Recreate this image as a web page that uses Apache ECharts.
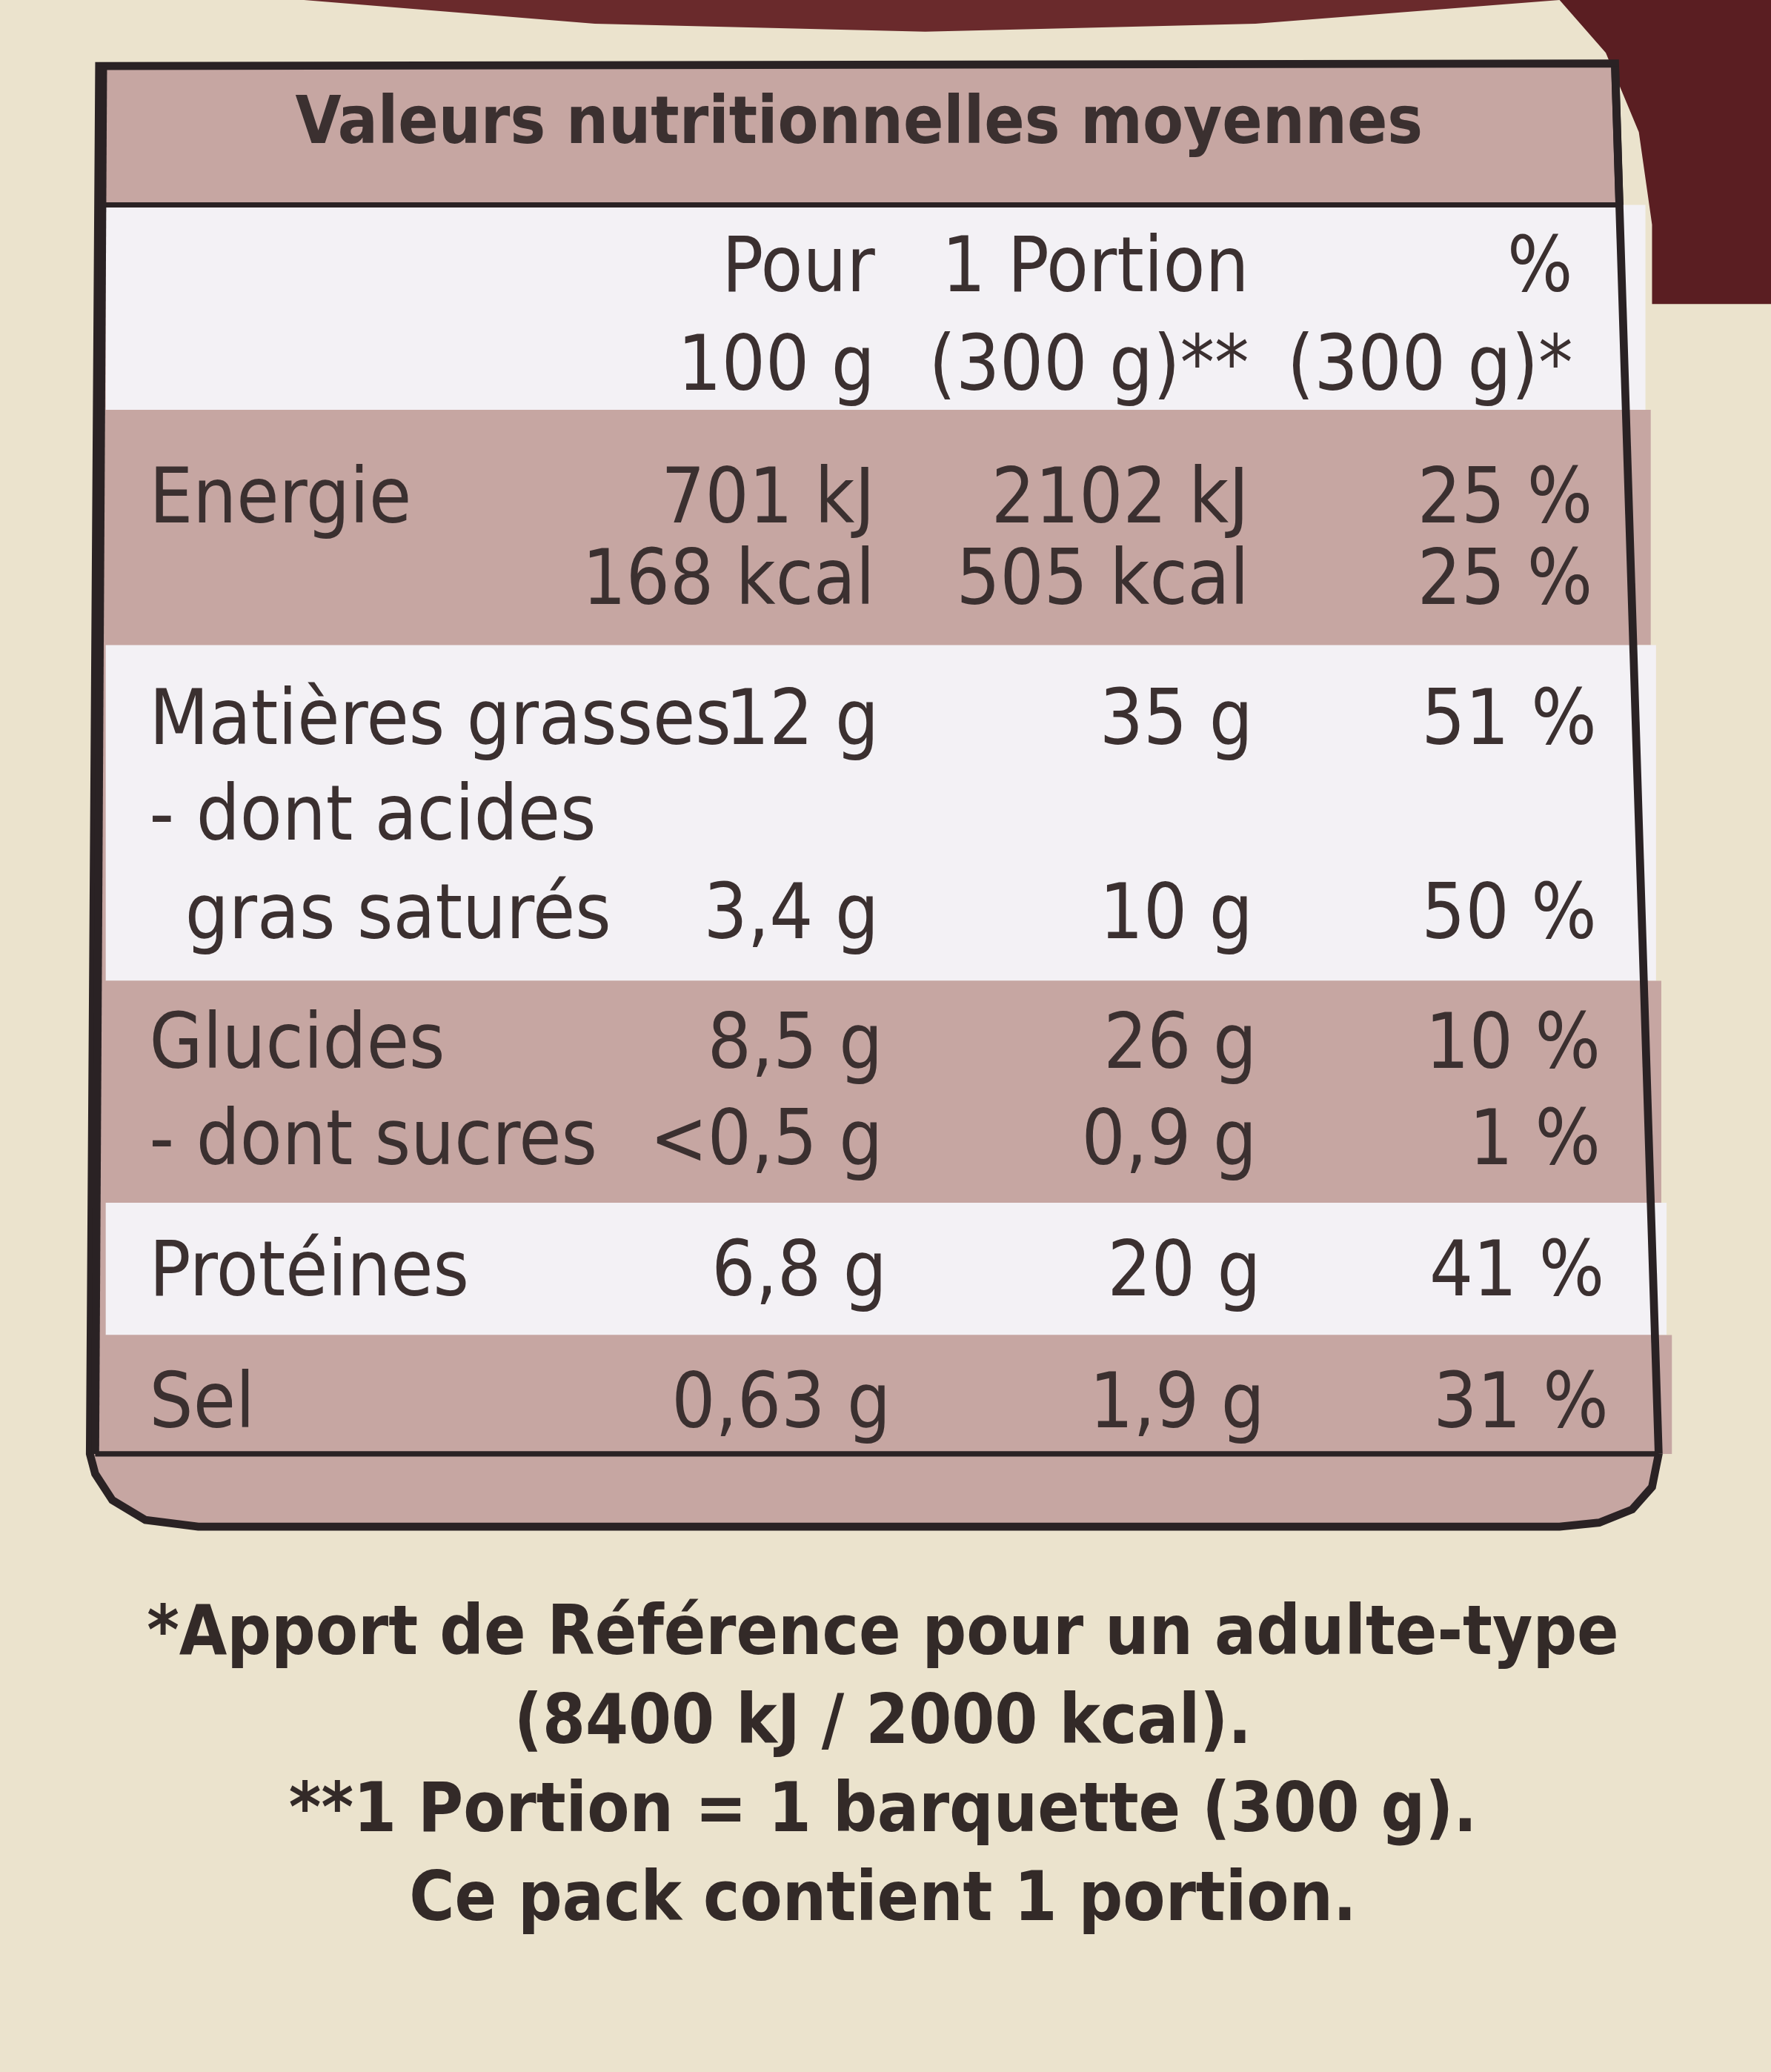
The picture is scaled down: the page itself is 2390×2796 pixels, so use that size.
<!DOCTYPE html>
<html><head><meta charset="utf-8">
<script src="https://cdn.jsdelivr.net/npm/echarts@6/dist/echarts.min.js"></script>
<style>html,body{margin:0;padding:0;background:#ebe3cd}#c{width:2390px;height:2796px}</style>
</head><body><div id="c"></div>
<script>
const title = "Valeurs nutritionnelles moyennes";
const colHeaders = [["Pour","100 g"],["1 Portion","(300 g)**"],["%","(300 g)*"]];
const rowLabels = [["Energie",""],["Matières grasses","- dont acides","  gras saturés"],["Glucides","- dont sucres"],["Protéines"],["Sel"]];
const per100 = [["701 kJ","168 kcal"],["12 g","","3,4 g"],["8,5 g","<0,5 g"],["6,8 g"],["0,63 g"]];
const perPortion = [["2102 kJ","505 kcal"],["35 g","","10 g"],["26 g","0,9 g"],["20 g"],["1,9 g"]];
const percent = [["25 %","25 %"],["51 %","","50 %"],["10 %","1 %"],["41 %"],["31 %"]];
const footnotes = ["*Apport de Référence pour un adulte-type","(8400 kJ / 2000 kcal).","**1 Portion = 1 barquette (300 g).","Ce pack contient 1 portion."];

const S = 2390/1340;
const F = "'Liberation Sans Narrow','DejaVu Sans Condensed',sans-serif";
const INK = "#3b3030";
const PINK = "#c6a6a2";
const bands = [[155,310],[310,488],[488,742],[742,910],[910,1010],[1010,1100]];
const rowY = [[205,280],[380,442],[548,620,695],[793,866],[965],[1065]];
const colX = [662,945,1205];
const els = [];
const P = pts => pts.map(p=>[p[0]*S,p[1]*S]);
function T(x,y,t,opt){els.push({type:'text',x:x*S,y:y*S,style:Object.assign({text:t,font:`${58*S}px ${F}`,fill:INK,textVerticalAlign:'middle'},opt||{})});}
// dish shapes at top
els.push({type:'polygon',shape:{points:P([[1180,0],[1215,40],[1240,100],[1250,170],[1250,230],[1340,230],[1340,0]])},style:{fill:'#5a1e22'}});
els.push({type:'polygon',shape:{points:P([[230,0],[450,18],[700,24],[950,18],[1180,0]])},style:{fill:'#6a2a2c'}});
// table frame
els.push({type:'polygon',shape:{points:P([[75,50],[1222,48],[1255,1100],[1250,1125],[1235,1142],[1210,1152],[1180,1155],[150,1155],[110,1150],[85,1135],[72,1115],[68,1100]])},style:{fill:PINK,stroke:'#2a2224',lineWidth:6*S}});
bands.forEach((b,i)=>{
  els.push({type:'rect',shape:{x:80*S,y:b[0]*S,width:(1165+i*4)*S,height:(b[1]-b[0])*S},style:{fill:i%2===0?'#f3f1f5':PINK}});
});
els.push({type:'line',shape:{x1:75*S,y1:155*S,x2:1228*S,y2:155*S},style:{stroke:'#2a2224',lineWidth:4*S}});
els.push({type:'line',shape:{x1:72*S,y1:1100*S,x2:1255*S,y2:1100*S},style:{stroke:'#2a2224',lineWidth:4*S}});
els.push({type:'line',shape:{x1:78*S,y1:50*S,x2:72*S,y2:1100*S},style:{stroke:'#2a2224',lineWidth:6*S}});
els.push({type:'line',shape:{x1:1222*S,y1:50*S,x2:1255*S,y2:1100*S},style:{stroke:'#2a2224',lineWidth:6*S}});
T(650,95,title,{textAlign:'center',font:`bold ${50*S}px ${F}`});
colHeaders.forEach((h,c)=>h.forEach((t,k)=>T(colX[c]-(c===2?15:0),rowY[0][k],t,{textAlign:'right'})));
rowLabels.forEach((r,i)=>r.forEach((t,k)=>{const y=rowY[i+1][k];
  if(t) T(k===2?140:113,y,t.trim(),{textAlign:'left'});
  [per100,perPortion,percent].forEach((arr,c)=>{const v=arr[i][k]; if(v) T(colX[c]+i*3,y,v,{textAlign:'right'});});
}));
footnotes.forEach((t,i)=>T(668,1238+i*67,t,{textAlign:'center',font:`bold ${52*S}px ${F}`,fill:'#332a28'}));
const chart = echarts.init(document.getElementById('c'));
chart.setOption({backgroundColor:'#ebe3cd',graphic:{elements:els}});
</script></body></html>
